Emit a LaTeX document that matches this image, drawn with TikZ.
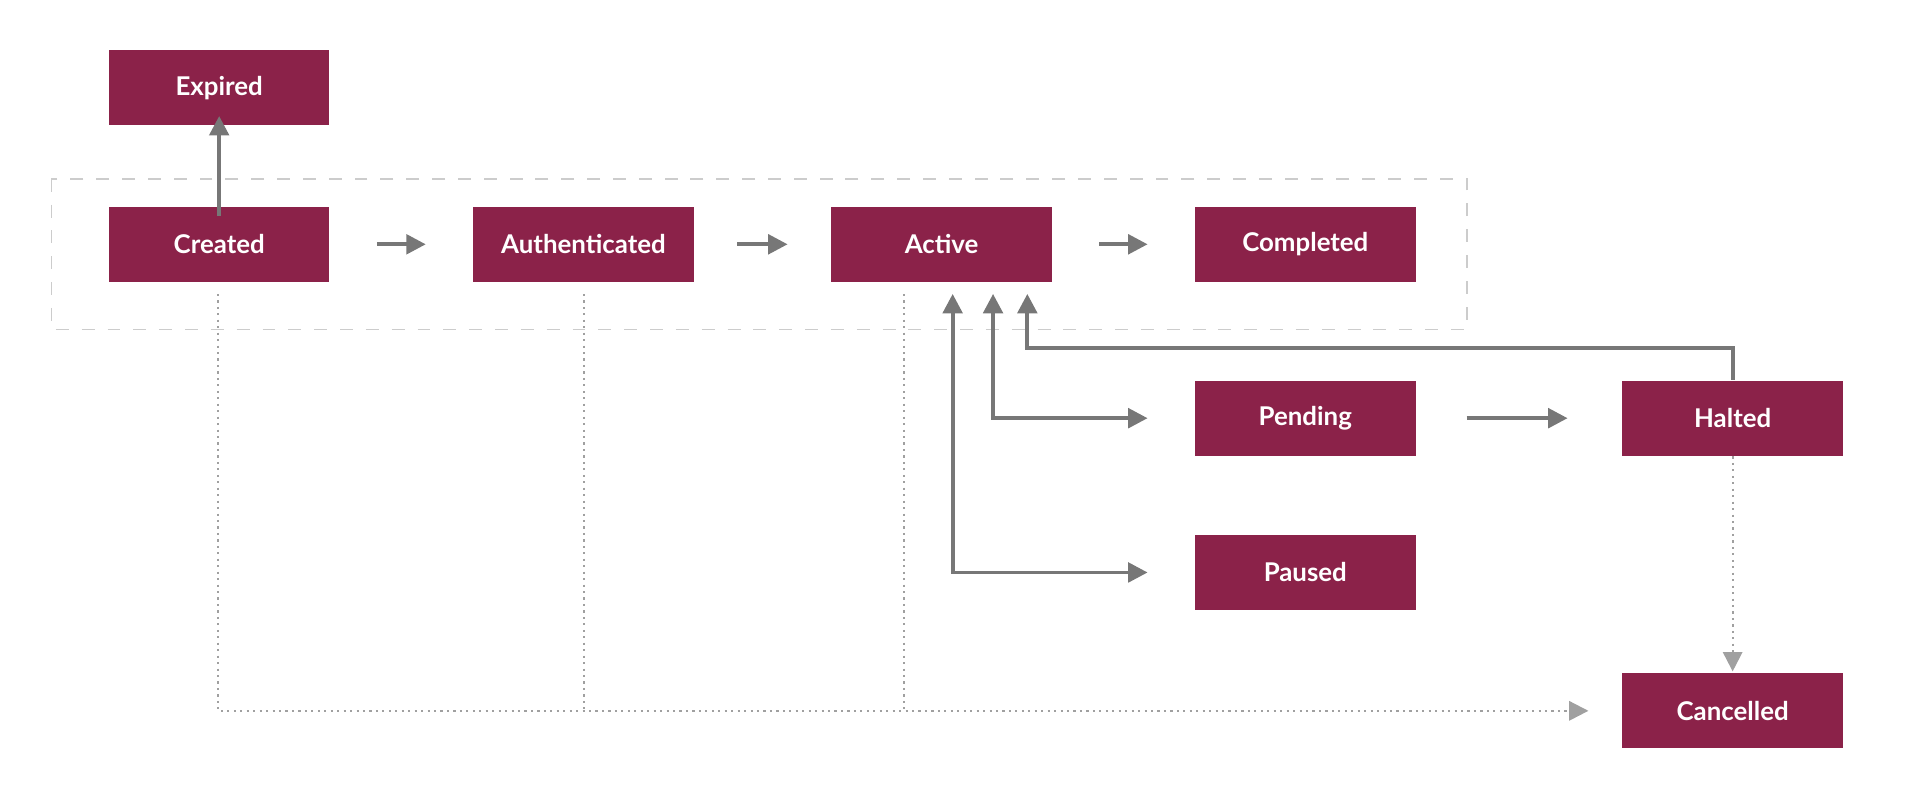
\documentclass[tikz,border=0pt]{standalone}
\usepackage{fontspec}
\setmainfont{Lato}
\usetikzlibrary{positioning, arrows.meta}
\definecolor{wine}{HTML}{8B2249}
\definecolor{wire}{HTML}{777777}

\begin{document}
\begin{tikzpicture}[x=0.01cm, y=-0.01cm, >={Triangle[length=4.5pt,width=4.5pt]},
    state/.style={draw=none, fill=wine, text=white, font=\fontsize{6}{7}\selectfont\bfseries,
        minimum width=1.8cm, minimum height=0.61cm, inner sep=0pt},
    flow/.style={->, draw=wire, line width=0.9pt},
    fail/.style={->, draw=wire!70, densely dotted, line width=0.5pt}]
    \useasboundingbox (0,0) rectangle (1568,647);
    % Group of main states
    \draw[gray!40, dashed, line width=0.4pt] (42,146) rectangle (1198,269);
    \node[state] (created) at (179,199.5) {Created};
    \node[state] (auth) at (476.5,199.5) {Authenticated};
    \node[state] (active) at (769,199.5) {Active};
    \node[state] (done) at (1066,199.5) {Completed};
    \node[state] (expired) at (179,71.5) {Expired};

    % Side states
    \node[state] (pending) at (1066,341.5) {Pending};
    \node[state] (halted) at (1415,341.5) {Halted};
    \node[state] (paused) at (1066,467.5) {Paused};
    \node[state] (cancelled) at (1415,580.5) {Cancelled};

    \draw[flow] ([yshift=-0.08cm]created.north) -- ([yshift=0.08cm]expired.south);
    \draw[flow] ([xshift=0.38cm]created.east) -- ([xshift=-0.38cm]auth.west);
    \draw[flow] ([xshift=0.35cm]auth.east) -- ([xshift=-0.35cm]active.west);
    \draw[flow] ([xshift=0.38cm]active.east) -- ([xshift=-0.38cm]done.west);
    \draw[flow] ([xshift=0.41cm]pending.east) -- ([xshift=-0.44cm]halted.west);

    % Active <-> Pending / Paused / Halted
    \coordinate (a1) at (778,240);
    \coordinate (a2) at (811,240);
    \coordinate (a3) at (839,240);
    \draw[flow, <->] (a1) |- ([xshift=-0.38cm]paused.west);
    \draw[flow, <->] (a2) |- ([xshift=-0.38cm]pending.west);
    \draw[flow] (halted.north) |- (839,284) -- (a3);

    % Cancel paths
    \coordinate (c1) at (178,240);
    \coordinate (c2) at (477,240);
    \coordinate (c3) at (738,240);
    \draw[fail] (c1) |- ([xshift=-0.27cm]cancelled.west);
    \draw[wire!70, densely dotted, line width=0.5pt] (c2) -- (477,580);
    \draw[wire!70, densely dotted, line width=0.5pt] (c3) -- (738,580);
    \draw[fail] (halted.south) -- ([yshift=0.01cm]cancelled.north);
\end{tikzpicture}
\end{document}
